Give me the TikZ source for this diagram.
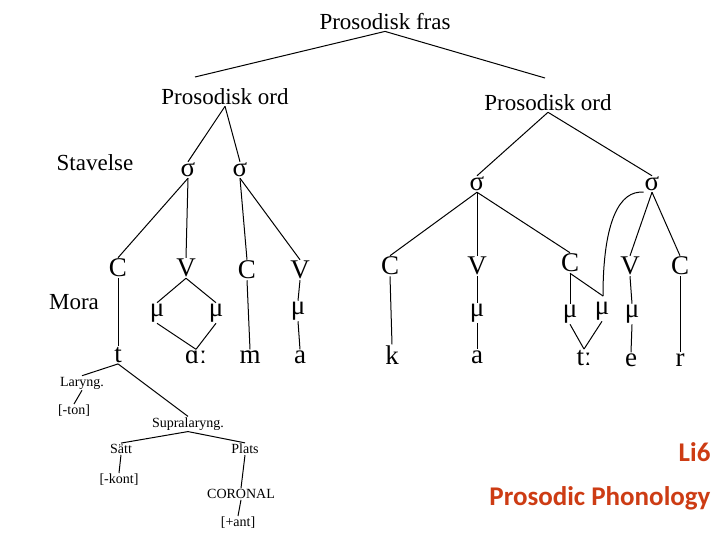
\documentclass[tikz,border=0pt]{standalone}
\usepackage{fontspec}
\setmainfont{Liberation Serif}
\newfontfamily\carlitofont{Carlito}
\definecolor{titlered}{RGB}{205,60,20}
\begin{document}
\begin{tikzpicture}[x=1pt,y=-1pt,
  big/.style={font=\fontsize{27}{29}\selectfont, inner sep=1pt},
  lab/.style={font=\fontsize{23}{25}\selectfont, inner sep=1pt},
  sm/.style={font=\fontsize{14}{16}\selectfont, inner sep=1pt},
  ln/.style={line width=1pt},
  ttl/.style={font=\carlitofont\bfseries\fontsize{27}{30}\selectfont, text=titlered, anchor=east}]
\useasboundingbox (0,0) rectangle (720,540);
\fill[white] (0,0) rectangle (720,540);
\node[lab] (pf) at (385,22) {Prosodisk fras};
\node[lab] (pol) at (225,97) {Prosodisk ord};
\node[lab] (por) at (548,103) {Prosodisk ord};
\node[lab] (stav) at (95,163) {Stavelse};
\node[lab] (mora) at (74,302) {Mora};
% syllables
\node[big] (s1) at (188,170) {σ};
\node[big] (s2) at (240,170) {σ};
\node[big] (s3) at (477,184) {σ};
\node[big] (s4) at (652,184) {σ};
% CV
\node[big] (c1) at (118,268) {C};
\node[big] (v1) at (186,268) {V};
\node[big] (c2) at (247,270) {C};
\node[big] (v2) at (300,270) {V};
\node[big] (c3) at (390,266) {C};
\node[big] (v3) at (477,266) {V};
\node[big] (c4) at (570,263) {C};
\node[big] (v4) at (630,266) {V};
\node[big] (c5) at (680,266) {C};
% moras
\node[big] (m1) at (157,313) {μ};
\node[big] (m2) at (216,313) {μ};
\node[big] (m3) at (298,311) {μ};
\node[big] (m4) at (477,313) {μ};
\node[big] (m5) at (570,314) {μ};
\node[big] (m6) at (602,311) {μ};
\node[big] (m7) at (632,314) {μ};
% segments
\node[big] (t1) at (118,355) {t};
\node[big] (aa) at (196,357) {ɑː};
\node[big] (mm) at (250,357) {m};
\node[big] (a1) at (300,357) {a};
\node[big] (kk) at (392,355) {k};
\node[big] (a2) at (477,357) {a};
\node[big] (tt) at (584,358) {tː};
\node[big] (ee) at (631,360) {e};
\node[big] (rr) at (680,360) {r};
% features
\node[sm] (lar) at (82,383) {Laryng.};
\node[sm] (ton) at (74,411) {[-ton]};
\node[sm] (sup) at (188,424) {Supralaryng.};
\node[sm] (sat) at (121,449) {Sätt};
\node[sm] (pla) at (245,449) {Plats};
\node[sm] (kon) at (119,480) {[-kont]};
\node[sm] (cor) at (241,494) {CORONAL};
\node[sm] (ant) at (238,523) {[+ant]};
\coordinate (mx) at (603,296);
% lines
\draw[ln] (pf.south) -- (195,77);
\draw[ln] (pf.south) -- (545,78);
\draw[ln] (pol.south) -- (s1.north);
\draw[ln] (pol.south) -- (s2.north);
\draw[ln] (por.south) -- (s3.north);
\draw[ln] (por.south) -- (s4.north);
\draw[ln] (s1.south) -- (c1.north);
\draw[ln] (s1.south) -- (v1.north);
\draw[ln] (s2.south) -- (c2.north);
\draw[ln] (s2.south) -- (v2.north);
\draw[ln] (s3.south) -- (c3.north);
\draw[ln] (s3.south) -- (v3.north);
\draw[ln] (s3.south) -- (c4.north);
\draw[ln] (s4.south) -- (v4.north);
\draw[ln] (s4.south) -- (c5.north);
\draw[ln] (s4.south west) .. controls (620,190) and (603,220) .. (mx);
\draw[ln] (c4.south) -- (mx);
\draw[ln] (c1.south) -- (t1.north);
\draw[ln] (v1.south) -- (m1.north);
\draw[ln] (v1.south) -- (m2.north);
\draw[ln] (m1.south) -- (aa.north);
\draw[ln] (m2.south) -- (aa.north);
\draw[ln] (c2.south) -- (mm.north);
\draw[ln] (v2.south) -- (m3.north);
\draw[ln] (m3.south) -- (a1.north);
\draw[ln] (c3.south) -- (kk.north);
\draw[ln] (v3.south) -- (m4.north);
\draw[ln] (m4.south) -- (a2.north);
\draw[ln] (c4.south) -- (m5.north);
\draw[ln] (m5.south) -- (tt.north);
\draw[ln] (m6.south) -- (tt.north);
\draw[ln] (v4.south) -- (m7.north);
\draw[ln] (m7.south) -- (ee.north);
\draw[ln] (c5.south) -- (rr.north);
\draw[ln] (t1.south) -- (lar.north);
\draw[ln] (t1.south) -- (sup.north);
\draw[ln] (lar.south) -- (ton.north);
\draw[ln] (sup.south) -- (sat.north);
\draw[ln] (sup.south) -- (pla.north);
\draw[ln] (sat.south) -- (kon.north);
\draw[ln] (pla.south) -- (cor.north);
\draw[ln] (cor.south) -- (ant.north);
% title
\node[ttl] (li) at (714,452) {Li6};
\node[ttl] (pp) at (714,498) {Prosodic Phonology};
\end{tikzpicture}
\end{document}
